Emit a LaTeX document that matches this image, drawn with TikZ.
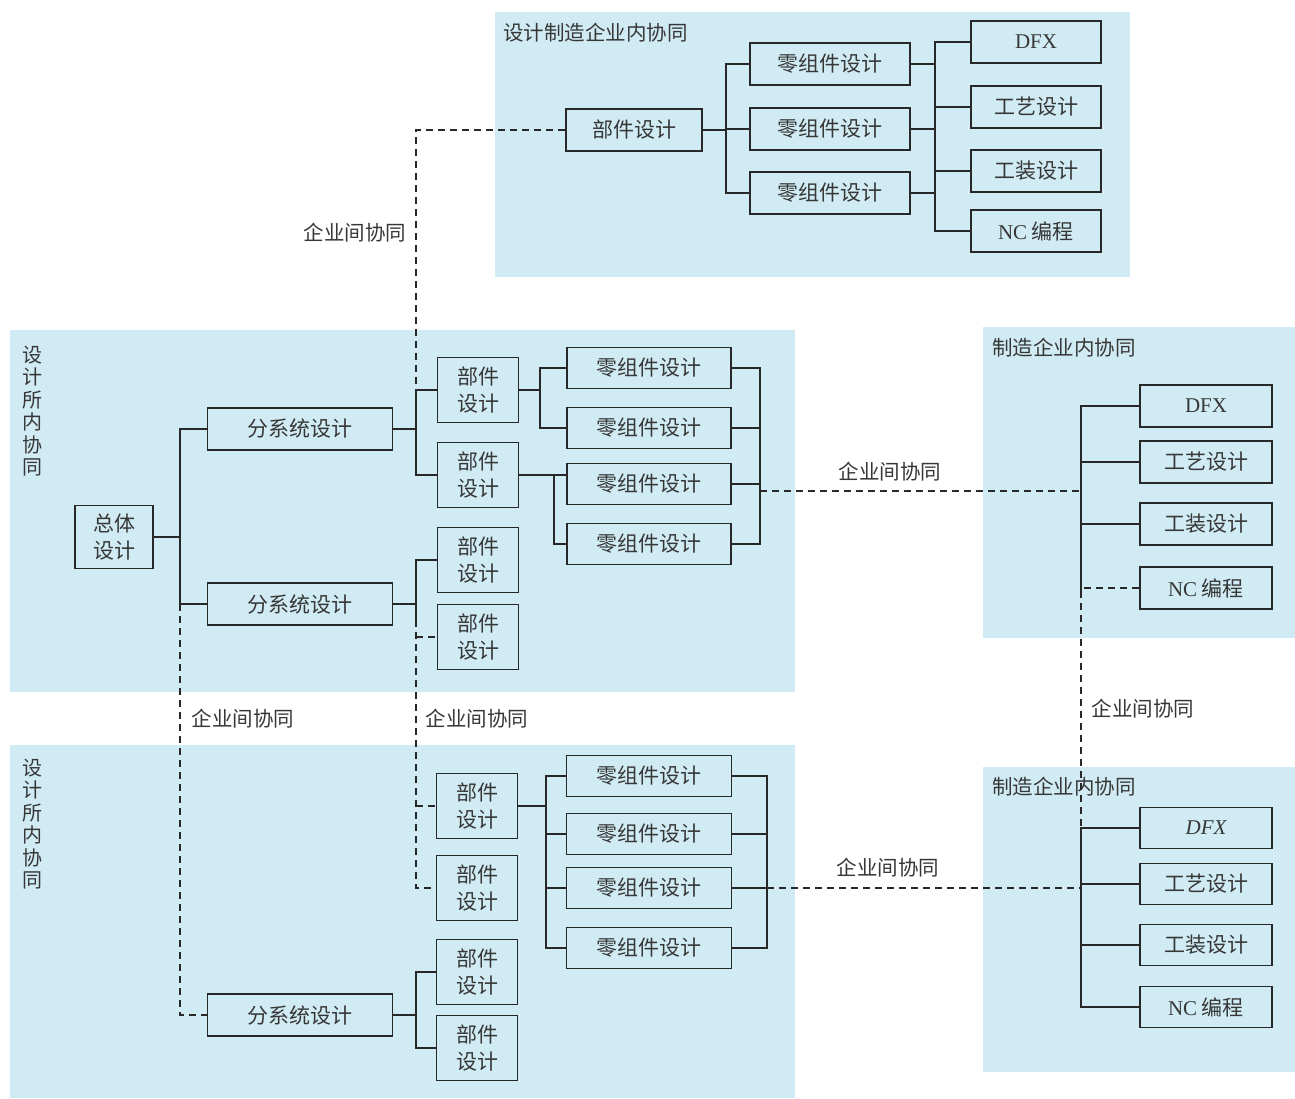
\documentclass[tikz,border=0pt]{standalone}
\usepackage{fontspec}
\setmainfont{Noto Sans CJK SC}
\newfontfamily\tnr{Liberation Serif}
\definecolor{panel}{RGB}{208,235,243}
\definecolor{linec}{RGB}{40,40,40}
\definecolor{textc}{RGB}{55,55,55}
\begin{document}
\begin{tikzpicture}[x=1pt,y=-1pt,
  box/.style={draw=linec, line width=1.8pt, inner sep=0pt, text=textc,
    font=\fontsize{21}{27}\selectfont, align=center},
  wbox/.style={box, minimum width=#1, minimum height=42pt},
  tbox/.style={box, minimum width=81pt, minimum height=65pt},
  lbl/.style={text=textc, font=\fontsize{20.5}{22}\selectfont, inner sep=0pt},
  vlbl/.style={text=textc, font=\fontsize{20}{22.5}\selectfont, inner sep=0pt, align=center},
  conn/.style={draw=linec, line width=1.6pt},
  dconn/.style={draw=linec, line width=1.6pt, dash pattern=on 7pt off 5pt}
]
\useasboundingbox (0,0) rectangle (1295,1098);
\fill[white] (0,0) rectangle (1295,1098);
% panels
\fill[panel] (495,12) rectangle (1130,277);
\fill[panel] (10,330) rectangle (795,692);
\fill[panel] (10,745) rectangle (795,1098);
\fill[panel] (983,327) rectangle (1295,638);
\fill[panel] (983,767) rectangle (1295,1072);

% panel titles
\node[lbl, anchor=west] (t1) at (503,33) {设计制造企业内协同};
\node[lbl, anchor=west] (t2) at (992,348) {制造企业内协同};
\node[lbl, anchor=west] (t3) at (992,787) {制造企业内协同};
\node[vlbl] (v1) at (33,411) {设\\计\\所\\内\\协\\同};
\node[vlbl] (v2) at (33,824) {设\\计\\所\\内\\协\\同};

% inter-enterprise labels
\node[lbl] (l1) at (355,233) {企业间协同};
\node[lbl] (l2) at (890,472) {企业间协同};
\node[lbl] (l3) at (243,719) {企业间协同};
\node[lbl] (l4) at (477,719) {企业间协同};
\node[lbl] (l5) at (1143,709) {企业间协同};
\node[lbl] (l6) at (888,868) {企业间协同};

% top panel nodes
\node[wbox=136pt] (tp) at (634,130) {部件设计};
\node[wbox=160pt] (tz1) at (830,64) {零组件设计};
\node[wbox=160pt] (tz2) at (830,129) {零组件设计};
\node[wbox=160pt] (tz3) at (830,193) {零组件设计};
\node[wbox=130pt] (tm1) at (1036,42) {\tnr DFX};
\node[wbox=130pt] (tm2) at (1036,107) {工艺设计};
\node[wbox=130pt] (tm3) at (1036,171) {工装设计};
\node[wbox=130pt] (tm4) at (1036,231) {{\tnr NC} 编程};

% middle-left panel nodes
\node[box, minimum width=78pt, minimum height=63pt] (zt) at (114,537) {总体\\设计};
\node[wbox=185pt] (fs1) at (300,429) {分系统设计};
\node[wbox=185pt] (fs2) at (300,604) {分系统设计};
\node[tbox] (p1) at (478,390) {部件\\设计};
\node[tbox] (p2) at (478,475) {部件\\设计};
\node[tbox] (p3) at (478,560) {部件\\设计};
\node[tbox] (p4) at (478,637) {部件\\设计};
\node[wbox=164pt, minimum height=41pt] (z1) at (649,368) {零组件设计};
\node[wbox=164pt, minimum height=41pt] (z2) at (649,428) {零组件设计};
\node[wbox=164pt, minimum height=41pt] (z3) at (649,484) {零组件设计};
\node[wbox=164pt, minimum height=41pt] (z4) at (649,544) {零组件设计};

% right-middle panel nodes
\node[wbox=132pt] (r1) at (1206,406) {\tnr DFX};
\node[wbox=132pt] (r2) at (1206,462) {工艺设计};
\node[wbox=132pt] (r3) at (1206,524) {工装设计};
\node[wbox=132pt] (r4) at (1206,588) {{\tnr NC} 编程};

% bottom-left panel nodes
\node[wbox=185pt] (fs3) at (300,1015) {分系统设计};
\node[tbox] (b1) at (477,806) {部件\\设计};
\node[tbox] (b2) at (477,888) {部件\\设计};
\node[tbox] (b3) at (477,972) {部件\\设计};
\node[tbox] (b4) at (477,1048) {部件\\设计};
\node[wbox=165pt, minimum height=41pt] (bz1) at (649,776) {零组件设计};
\node[wbox=165pt, minimum height=41pt] (bz2) at (649,834) {零组件设计};
\node[wbox=165pt, minimum height=41pt] (bz3) at (649,888) {零组件设计};
\node[wbox=165pt, minimum height=41pt] (bz4) at (649,948) {零组件设计};

% right-bottom panel nodes
\node[wbox=132pt, minimum height=41pt] (rb1) at (1206,828) {\tnr\itshape DFX};
\node[wbox=132pt, minimum height=41pt] (rb2) at (1206,884) {工艺设计};
\node[wbox=132pt, minimum height=41pt] (rb3) at (1206,945) {工装设计};
\node[wbox=132pt, minimum height=41pt] (rb4) at (1206,1007) {{\tnr NC} 编程};

% bus x-positions
\coordinate (xb) at (180,0);
\coordinate (xa) at (416,0);
\coordinate (xc) at (540,0);
\coordinate (xd) at (554,0);
\coordinate (xe) at (760,0);
\coordinate (xg) at (546,0);
\coordinate (xh) at (767,0);
\coordinate (xt1) at (726,0);
\coordinate (xt2) at (935,0);
\coordinate (xf) at (1081,0);
\coordinate (ya) at (0,620);
\coordinate (yb) at (0,491);
\coordinate (yc) at (0,591);

% top panel connectors
\draw[conn] (tp.east) -- (tp.east -| xt1);
\draw[conn] (tz1.west) -| (xt1 |- tz3.west) -- (tz3.west);
\draw[conn] (tz2.west) -- (tz2.west -| xt1);
\draw[conn] (tz1.east) -- (tz1.east -| xt2);
\draw[conn] (tz2.east) -- (tz2.east -| xt2);
\draw[conn] (tz3.east) -- (tz3.east -| xt2);
\draw[conn] (tm1.west) -| (xt2 |- tm4.west) -- (tm4.west);
\draw[conn] (tm2.west) -- (tm2.west -| xt2);
\draw[conn] (tm3.west) -- (tm3.west -| xt2);
\draw[dconn] (tp.west) -| (xa |- p1.west);

% middle-left connectors
\draw[conn] (zt.east) -- (zt.east -| xb);
\draw[conn] (fs1.west) -| (xb |- fs2.west) -- (fs2.west);
\draw[dconn] (xb |- fs2.west) -- (xb |- fs3.west) -- (fs3.west);
\draw[conn] (fs1.east) -- (fs1.east -| xa);
\draw[conn] (p1.west) -| (xa |- p2.west) -- (p2.west);
\draw[conn] (fs2.east) -- (fs2.east -| xa);
\draw[conn] (p3.west) -| (xa |- ya);
\draw[dconn] (xa |- ya) -- (xa |- b2.west) -- (b2.west);
\draw[dconn] (xa |- p4.west) -- (p4.west);
\draw[dconn] (xa |- b1.west) -- (b1.west);
\draw[conn] (p1.east) -- (p1.east -| xc);
\draw[conn] (z1.west) -| (xc |- z2.west) -- (z2.west);
\draw[conn] (p2.east) -- (p2.east -| z3.west);
\draw[conn] (p2.east -| xd) |- (z4.west);
\draw[conn] (z1.east) -| (xe |- z4.east) -- (z4.east);
\draw[conn] (z2.east) -- (z2.east -| xe);
\draw[conn] (z3.east) -- (z3.east -| xe);
\draw[dconn] (xe |- yb) -- (xf |- yb);

% right-middle connectors
\draw[conn] (r1.west) -| (xf |- yc);
\draw[conn] (r2.west) -- (r2.west -| xf);
\draw[conn] (r3.west) -- (r3.west -| xf);
\draw[dconn] (r4.west) -- (r4.west -| xf);
\draw[dconn] (xf |- yc) -- (xf |- rb1.west);

% bottom-left connectors
\draw[conn] (fs3.east) -- (fs3.east -| xa);
\draw[conn] (b3.west) -| (xa |- b4.west) -- (b4.west);
\draw[conn] (b1.east) -- (b1.east -| xg);
\draw[conn] (bz1.west) -| (xg |- bz4.west) -- (bz4.west);
\draw[conn] (bz2.west) -- (bz2.west -| xg);
\draw[conn] (bz3.west) -- (bz3.west -| xg);
\draw[conn] (bz1.east) -| (xh |- bz4.east) -- (bz4.east);
\draw[conn] (bz2.east) -- (bz2.east -| xh);
\draw[conn] (bz3.east) -- (bz3.east -| xh);
\draw[dconn] (xh |- bz3.east) -- (xf |- bz3.east);

% right-bottom connectors
\draw[conn] (rb1.west) -| (xf |- rb4.west) -- (rb4.west);
\draw[conn] (rb2.west) -- (rb2.west -| xf);
\draw[conn] (rb3.west) -- (rb3.west -| xf);
\end{tikzpicture}
\end{document}
